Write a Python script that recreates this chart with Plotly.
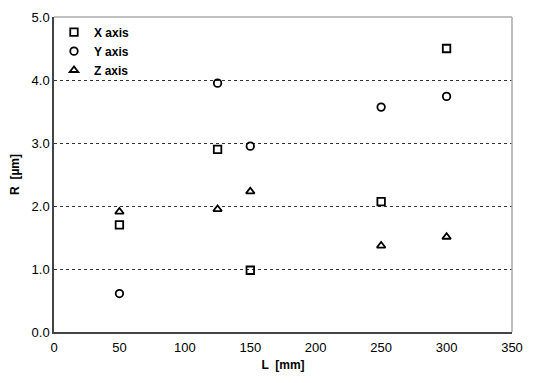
import plotly.graph_objects as go

L = [50, 125, 150, 250, 300]
R_x = [1.70, 2.90, 0.98, 2.07, 4.50]
R_y = [0.61, 3.95, 2.95, 3.57, 3.74]
R_z = [1.91, 1.95, 2.23, 1.37, 1.51]
names = ["X axis", "Y axis", "Z axis"]
symbols = ["square-open", "circle-open", "triangle-up-open"]

fig = go.Figure()
for name, vals, sym in zip(names, [R_x, R_y, R_z], symbols):
    fig.add_trace(go.Scatter(
        x=L, y=vals, mode="markers", name="<b>" + name + "</b>",
        marker=dict(symbol=sym, size=7.5, color="black", line=dict(width=1.8, color="black")),
    ))

fig.update_layout(
    width=542, height=375,
    margin=dict(l=46, r=38, t=9, b=51),
    paper_bgcolor="white", plot_bgcolor="white",
    font=dict(family="Liberation Sans, Arial", size=13, color="black"),
    showlegend=True,
    legend=dict(x=0.0, y=0.998, xanchor="left", yanchor="top",
                bgcolor="rgba(0,0,0,0)", font=dict(size=12, color="black"),
                tracegroupgap=0, itemwidth=30),
    xaxis=dict(range=[0, 350], dtick=50, showgrid=False, zeroline=False,
               showline=True, linecolor="#444", linewidth=1.5, mirror=False,
               tickfont=dict(size=13), automargin=False, ticklabelstandoff=3,
               title=dict(text="<b>L  [mm]</b>", font=dict(size=12), standoff=6)),
    yaxis=dict(range=[0, 5], dtick=1, tickformat=".1f", showgrid=True,
               gridcolor="#333", griddash="dot", gridwidth=1, zeroline=False,
               showline=True, linecolor="#444", linewidth=1.5,
               tickfont=dict(size=13), automargin=False,
               title=dict(text="<b>R  [µm]</b>", font=dict(size=12), standoff=10)),
)
# frame top and right (gray)
fig.add_shape(type="line", xref="paper", yref="paper", x0=0, x1=1, y0=1, y1=1,
              line=dict(color="#aaa", width=1.5))
fig.add_shape(type="line", xref="paper", yref="paper", x0=1, x1=1, y0=0, y1=1,
              line=dict(color="#aaa", width=1.5))

fig.write_html("out.html")
